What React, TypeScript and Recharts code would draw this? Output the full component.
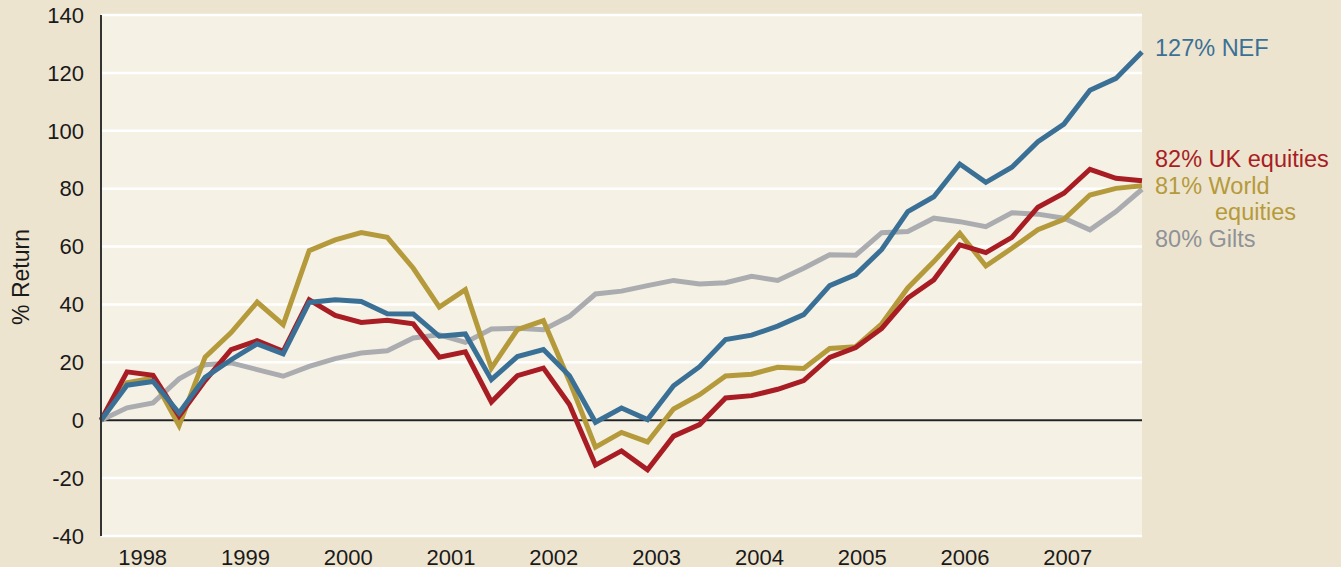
import { LineChart, Line, XAxis, YAxis, CartesianGrid, ReferenceLine } from 'recharts';

// quarterly cumulative % return, Q1 1998 .. Q1 2008
const NEF = [0, 12.1, 13.4, 2.5, 14.8, 20.9, 26.4, 22.9, 40.7, 41.6, 41, 36.8, 36.7, 29, 29.8, 14, 22, 24.4, 15.4, -0.7, 4.2, 0.2, 11.9, 18.5, 27.9, 29.4, 32.5, 36.5, 46.5, 50.3, 59, 72.1, 77.2, 88.5, 82.2, 87.4, 96.2, 102.3, 114, 118.1, 127.2];
const UK_EQUITIES = [0, 16.7, 15.5, 1.4, 13.7, 24.4, 27.5, 23.8, 41.6, 36.2, 33.8, 34.5, 33.3, 21.8, 23.6, 6.3, 15.4, 18, 5.4, -15.5, -10.6, -17.1, -5.5, -1.5, 7.7, 8.5, 10.7, 13.7, 21.7, 25.1, 31.7, 42.2, 48.5, 60.6, 57.9, 63.2, 73.6, 78.4, 86.7, 83.6, 82.7];
const WORLD_EQUITIES = [0, 12.9, 14.6, -1.8, 21.8, 30.3, 40.8, 33, 58.6, 62.3, 64.8, 63.2, 52.5, 39.1, 45.1, 18, 31.3, 34.4, 13.5, -9.3, -4.2, -7.5, 3.9, 8.8, 15.3, 15.9, 18.3, 17.9, 24.8, 25.4, 33.3, 45.7, 54.8, 64.6, 53.3, 59.4, 65.8, 69.4, 77.8, 80.1, 81];
const GILTS = [0, 4.3, 6, 14.3, 19.2, 19.8, 17.5, 15.2, 18.6, 21.3, 23.2, 24, 28.4, 29.5, 26.9, 31.5, 31.8, 31.3, 35.9, 43.6, 44.6, 46.5, 48.3, 47.1, 47.5, 49.7, 48.3, 52.5, 57.2, 57, 64.8, 65.2, 69.8, 68.6, 66.9, 71.7, 71.2, 69.8, 65.8, 72.1, 79.8];

const YEARS = ['1998', '1999', '2000', '2001', '2002', '2003', '2004', '2005', '2006', '2007'];
const Y_TICKS = [-40, -20, 0, 20, 40, 60, 80, 100, 120, 140];

const COLORS = {
  nef: '#3b7096',
  uk: '#a81d24',
  world: '#b59a3b',
  gilts: '#aaacaf',
};

const END_LABELS = [
  { lines: ['127% NEF'], color: COLORS.nef, y: 56 },
  { lines: ['82% UK equities'], color: COLORS.uk, y: 166.5 },
  { lines: ['81% World', 'equities'], color: COLORS.world, y: 194 },
  { lines: ['80% Gilts'], color: '#8f9297', y: 246.5 },
];

const FONT = '"Liberation Sans", Arial, Helvetica, sans-serif';

const data = NEF.map((v, i) => ({
  q: i,
  nef: v,
  uk: UK_EQUITIES[i],
  world: WORLD_EQUITIES[i],
  gilts: GILTS[i],
}));

// year labels sit roughly mid-year along the quarter axis
const yearTicks = YEARS.map((_, k) => 1.6 + k * 3.95);

export default function App() {
  return (
    <div
      style={{
        position: 'fixed',
        left: 0,
        top: 0,
        width: 1341,
        height: 567,
        background: '#ede4cf',
        fontFamily: FONT,
      }}
    >
      <LineChart width={1341} height={567} data={data} margin={{ top: 15, right: 199, bottom: 0, left: 0 }}>
        <CartesianGrid vertical={false} stroke="#ffffff" strokeWidth={2.5} fill="#f5f1e5" />
        <XAxis
          dataKey="q"
          type="number"
          domain={[0, 40]}
          ticks={yearTicks}
          tickFormatter={(v: number) => YEARS[yearTicks.indexOf(v)] ?? ''}
          axisLine={false}
          tickLine={false}
          tickMargin={7}
          height={31}
          interval={0}
          tick={{ fill: '#1a1a1a', fontSize: 22, fontFamily: FONT }}
        />
        <YAxis
          domain={[-40, 140]}
          ticks={Y_TICKS}
          width={101}
          axisLine={{ stroke: '#333333', strokeWidth: 2 }}
          tickLine={false}
          tickMargin={11}
          tick={{ fill: '#1a1a1a', fontSize: 22, fontFamily: FONT }}
        />
        <ReferenceLine y={0} stroke="#222222" strokeWidth={2} />
        <Line dataKey="gilts" stroke={COLORS.gilts} strokeWidth={5} dot={false} isAnimationActive={false} />
        <Line dataKey="world" stroke={COLORS.world} strokeWidth={5} dot={false} isAnimationActive={false} />
        <Line dataKey="uk" stroke={COLORS.uk} strokeWidth={5} dot={false} isAnimationActive={false} />
        <Line dataKey="nef" stroke={COLORS.nef} strokeWidth={5} dot={false} isAnimationActive={false} />
      </LineChart>
      <svg width={1341} height={567} style={{ position: 'absolute', left: 0, top: 0, pointerEvents: 'none' }}>
        <text
          transform="translate(29,277) rotate(-90)"
          textAnchor="middle"
          fontSize={23}
          fill="#1a1a1a"
          fontFamily={FONT}
        >
          % Return
        </text>
        {END_LABELS.map((l) => (
          <text key={l.lines[0]} x={1155} y={l.y} fontSize={23.5} fill={l.color} fontFamily={FONT}>
            {l.lines.map((line, j) => (
              <tspan key={line} x={j === 0 ? 1155 : 1215} dy={j === 0 ? 0 : 26}>
                {line}
              </tspan>
            ))}
          </text>
        ))}
      </svg>
    </div>
  );
}
